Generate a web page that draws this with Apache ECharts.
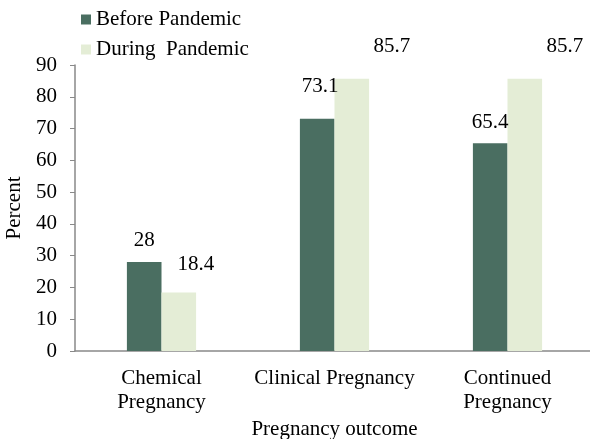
<!DOCTYPE html>
<html>
<head>
<meta charset="utf-8">
<script src="https://cdn.jsdelivr.net/npm/echarts@6/dist/echarts.min.js"></script>
<style>html,body{margin:0;padding:0;background:#fff}#c{width:590px;height:439px}</style>
</head>
<body>
<div id="c"></div>
<script>
var categories = ['Chemical\nPregnancy', 'Clinical Pregnancy', 'Continued\nPregnancy'];
var beforeValues = [28, 73.1, 65.4];
var duringValues = [18.4, 85.7, 85.7];
var seriesNames = ['Before Pandemic', 'During  Pandemic'];
var yTicks = [0, 90, 10];

var font = '"Liberation Serif", "Times New Roman", serif';
var fs = 21;
var beforeOffsets = [[0, -6], [3, -17], [0, -5]];
var duringOffsets = [[17, -13], [40, -17], [40, -17]];

var chart = echarts.init(document.getElementById('c'));
chart.setOption({
  animation: false,
  textStyle: { fontFamily: font },
  legend: {
    orient: 'vertical',
    left: 76, top: 4,
    itemWidth: 10, itemHeight: 10, itemGap: 9,
    icon: 'rect',
    textStyle: { fontFamily: font, fontSize: fs, color: '#000' },
    data: seriesNames
  },
  grid: { left: 75, right: -4, top: 65, bottom: 88, containLabel: false, outerBoundsMode: 'none' },
  xAxis: {
    type: 'category',
    data: categories,
    name: 'Pregnancy outcome',
    nameLocation: 'middle',
    nameGap: 66,
    nameTextStyle: { fontFamily: font, fontSize: fs, color: '#000' },
    axisLine: { lineStyle: { color: '#898989', width: 1.5 } },
    axisTick: { show: false },
    axisLabel: { fontFamily: font, fontSize: fs, color: '#000', margin: 15, lineHeight: 24, interval: 0 }
  },
  yAxis: {
    type: 'value',
    min: yTicks[0], max: yTicks[1], interval: yTicks[2],
    name: 'Percent',
    nameLocation: 'middle',
    nameGap: 48,
    nameRotate: 90,
    nameTextStyle: { fontFamily: font, fontSize: fs, color: '#000' },
    axisLine: { show: true, lineStyle: { color: '#898989', width: 1.5 } },
    axisTick: { show: true, length: 5, lineStyle: { color: '#898989' } },
    splitLine: { show: false },
    axisLabel: { fontFamily: font, fontSize: fs, color: '#000', margin: 18 }
  },
  series: [
    {
      name: seriesNames[0], type: 'bar',
      barGap: '0%', barCategoryGap: '60%',
      itemStyle: { color: '#4a6e61' },
      data: beforeValues.map(function (v, i) {
        return { value: v, label: { offset: beforeOffsets[i] } };
      }),
      label: { show: true, position: 'top', fontFamily: font, fontSize: fs, color: '#000' }
    },
    {
      name: seriesNames[1], type: 'bar',
      itemStyle: { color: '#e4edd6' },
      data: duringValues.map(function (v, i) {
        return { value: v, label: { offset: duringOffsets[i] } };
      }),
      label: { show: true, position: 'top', fontFamily: font, fontSize: fs, color: '#000' }
    }
  ]
});
</script>
</body>
</html>
